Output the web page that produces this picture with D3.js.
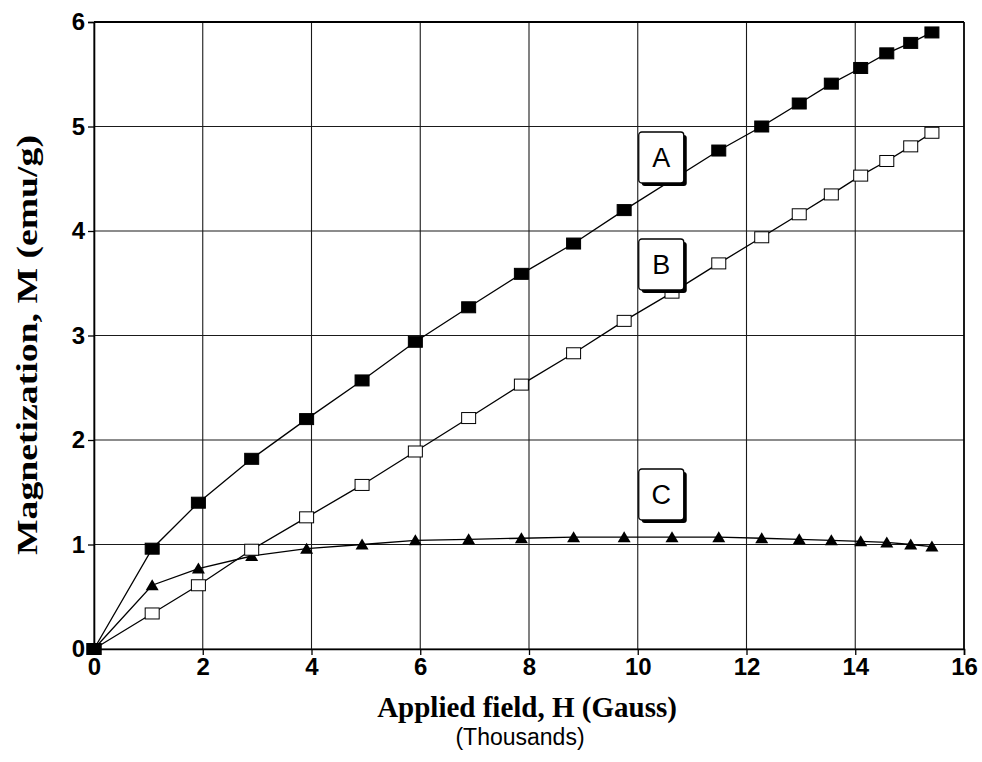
<!DOCTYPE html>
<html>
<head>
<meta charset="utf-8">
<script src="https://cdn.jsdelivr.net/npm/d3@7"></script>
<style>
  body { margin: 0; background: #fff; }
  svg { display: block; }
</style>
</head>
<body>
<svg id="chart" width="982" height="762"></svg>
<script>
// applied field H (thousands of gauss), shared by all three runs
const hField = [0, 1.07, 1.92, 2.9, 3.91, 4.93, 5.91, 6.89, 7.86, 8.82, 9.75, 10.63, 11.49, 12.28, 12.97, 13.56, 14.1, 14.58, 15.02, 15.41];

// magnetization M (emu/g); A's point near 10.6 sits under its label box
const seriesA = [0, 0.96, 1.4, 1.82, 2.2, 2.57, 2.94, 3.27, 3.59, 3.88, 4.2, null, 4.77, 5.0, 5.22, 5.41, 5.56, 5.7, 5.8, 5.9];
const seriesB = [0, 0.34, 0.61, 0.95, 1.26, 1.57, 1.89, 2.21, 2.53, 2.83, 3.14, 3.41, 3.69, 3.94, 4.16, 4.35, 4.53, 4.67, 4.81, 4.94];
const seriesC = [0, 0.61, 0.77, 0.89, 0.96, 1.0, 1.04, 1.05, 1.06, 1.07, 1.07, 1.07, 1.07, 1.06, 1.05, 1.04, 1.03, 1.02, 1.0, 0.98];

const xTicks = [0, 2, 4, 6, 8, 10, 12, 14, 16];
const yTicks = [0, 1, 2, 3, 4, 5, 6];
const labels = ["A", "B", "C"];

const margin = { top: 22, right: 18, bottom: 113, left: 94 };
const WIDTH = 982 - margin.left - margin.right;
const HEIGHT = 762 - margin.top - margin.bottom;

const svg = d3.select("#chart");
const chart = svg.append("g").attr("transform", `translate(${margin.left},${margin.top})`);

const x = d3.scaleLinear().domain([0, 16]).range([0, WIDTH]);
const y = d3.scaleLinear().domain([0, 6]).range([HEIGHT, 0]);

// grid
chart.append("g")
  .selectAll("line")
  .data(xTicks)
  .enter()
  .append("line")
  .attr("x1", d => x(d)).attr("x2", d => x(d))
  .attr("y1", 0).attr("y2", HEIGHT)
  .attr("stroke", "#1a1a1a").attr("stroke-width", 1.1);

chart.append("g")
  .selectAll("line")
  .data(yTicks)
  .enter()
  .append("line")
  .attr("x1", 0).attr("x2", WIDTH)
  .attr("y1", d => y(d)).attr("y2", d => y(d))
  .attr("stroke", "#1a1a1a").attr("stroke-width", 1.1);

chart.append("line")
  .attr("x1", 0).attr("x2", WIDTH).attr("y1", 0).attr("y2", 0)
  .attr("stroke", "#000").attr("stroke-width", 2.2);
chart.append("line")
  .attr("x1", WIDTH).attr("x2", WIDTH).attr("y1", 0).attr("y2", HEIGHT)
  .attr("stroke", "#000").attr("stroke-width", 1.6);

// axes
const xAxis = chart.append("g")
  .attr("transform", `translate(0,${HEIGHT})`)
  .call(d3.axisBottom(x).tickValues(xTicks).tickSize(6).tickPadding(3).tickFormat(d3.format("d")));
const yAxis = chart.append("g")
  .call(d3.axisLeft(y).tickValues(yTicks).tickSize(6).tickPadding(3).tickFormat(d3.format("d")));

[xAxis, yAxis].forEach(ax => {
  ax.select(".domain").attr("stroke", "#000").attr("stroke-width", 1.6);
  ax.selectAll(".tick line").attr("stroke", "#000").attr("stroke-width", 1.3);
  ax.selectAll(".tick text")
    .attr("fill", "#000")
    .style("font-family", "'Liberation Sans', Arial, sans-serif")
    .style("font-weight", "bold")
    .style("font-size", "24px");
});

// series
const toPoints = vals => hField
  .map((h, i) => ({ h, m: vals[i] }))
  .filter(p => p.m !== null);

const line = d3.line().x(p => x(p.h)).y(p => y(p.m));
const series = [
  { name: "C", pts: toPoints(seriesC), marker: "tri" },
  { name: "B", pts: toPoints(seriesB), marker: "open" },
  { name: "A", pts: toPoints(seriesA), marker: "filled" },
];

series.forEach(s => {
  chart.append("path")
    .datum(s.pts)
    .attr("d", line)
    .attr("fill", "none")
    .attr("stroke", "#000")
    .attr("stroke-width", 1.3);
});

series.forEach(s => {
  const g = chart.append("g");
  if (s.marker === "tri") {
    g.selectAll("path")
      .data(s.pts)
      .enter()
      .append("path")
      .attr("transform", p => `translate(${x(p.h)},${y(p.m)})`)
      .attr("d", "M0,-6L6.5,5L-6.5,5Z")
      .attr("fill", "#000");
  } else {
    g.selectAll("rect")
      .data(s.pts)
      .enter()
      .append("rect")
      .attr("x", p => x(p.h) - 7)
      .attr("y", p => y(p.m) - 5.5)
      .attr("width", 14)
      .attr("height", 11)
      .attr("fill", s.marker === "filled" ? "#000" : "#fff")
      .attr("stroke", "#000")
      .attr("stroke-width", 1);
  }
});

// label boxes A, B, C
const boxTops = [110, 217, 447];
const box = chart.append("g")
  .selectAll("g")
  .data(labels)
  .enter()
  .append("g")
  .attr("transform", (d, i) => `translate(${x(10) + 1},${boxTops[i]})`);

box.append("rect")
  .attr("x", 3).attr("y", 3).attr("width", 45).attr("height", 51)
  .attr("rx", 3).attr("fill", "#000");
box.append("rect")
  .attr("width", 45).attr("height", 51).attr("rx", 3)
  .attr("fill", "#fff").attr("stroke", "#000").attr("stroke-width", 1.3);
box.append("text")
  .attr("x", 22.5).attr("y", 35)
  .attr("text-anchor", "middle")
  .style("font-family", "'Liberation Sans', Arial, sans-serif")
  .style("font-size", "27px")
  .text(d => d);

// axis titles
svg.append("text")
  .attr("x", 527)
  .attr("y", 717)
  .attr("text-anchor", "middle")
  .style("font-family", "'Liberation Serif', 'Times New Roman', serif")
  .style("font-weight", "bold")
  .style("font-size", "29px")
  .text("Applied field, H (Gauss)");

svg.append("text")
  .attr("x", 520)
  .attr("y", 745)
  .attr("text-anchor", "middle")
  .style("font-family", "'Liberation Sans', Arial, sans-serif")
  .style("font-size", "23px")
  .text("(Thousands)");

svg.append("text")
  .attr("transform", "translate(37,345) rotate(-90)")
  .attr("text-anchor", "middle")
  .attr("textLength", 420)
  .attr("lengthAdjust", "spacingAndGlyphs")
  .style("font-family", "'Liberation Serif', 'Times New Roman', serif")
  .style("font-weight", "bold")
  .style("font-size", "30px")
  .text("Magnetization, M (emu/g)");
</script>
</body>
</html>
